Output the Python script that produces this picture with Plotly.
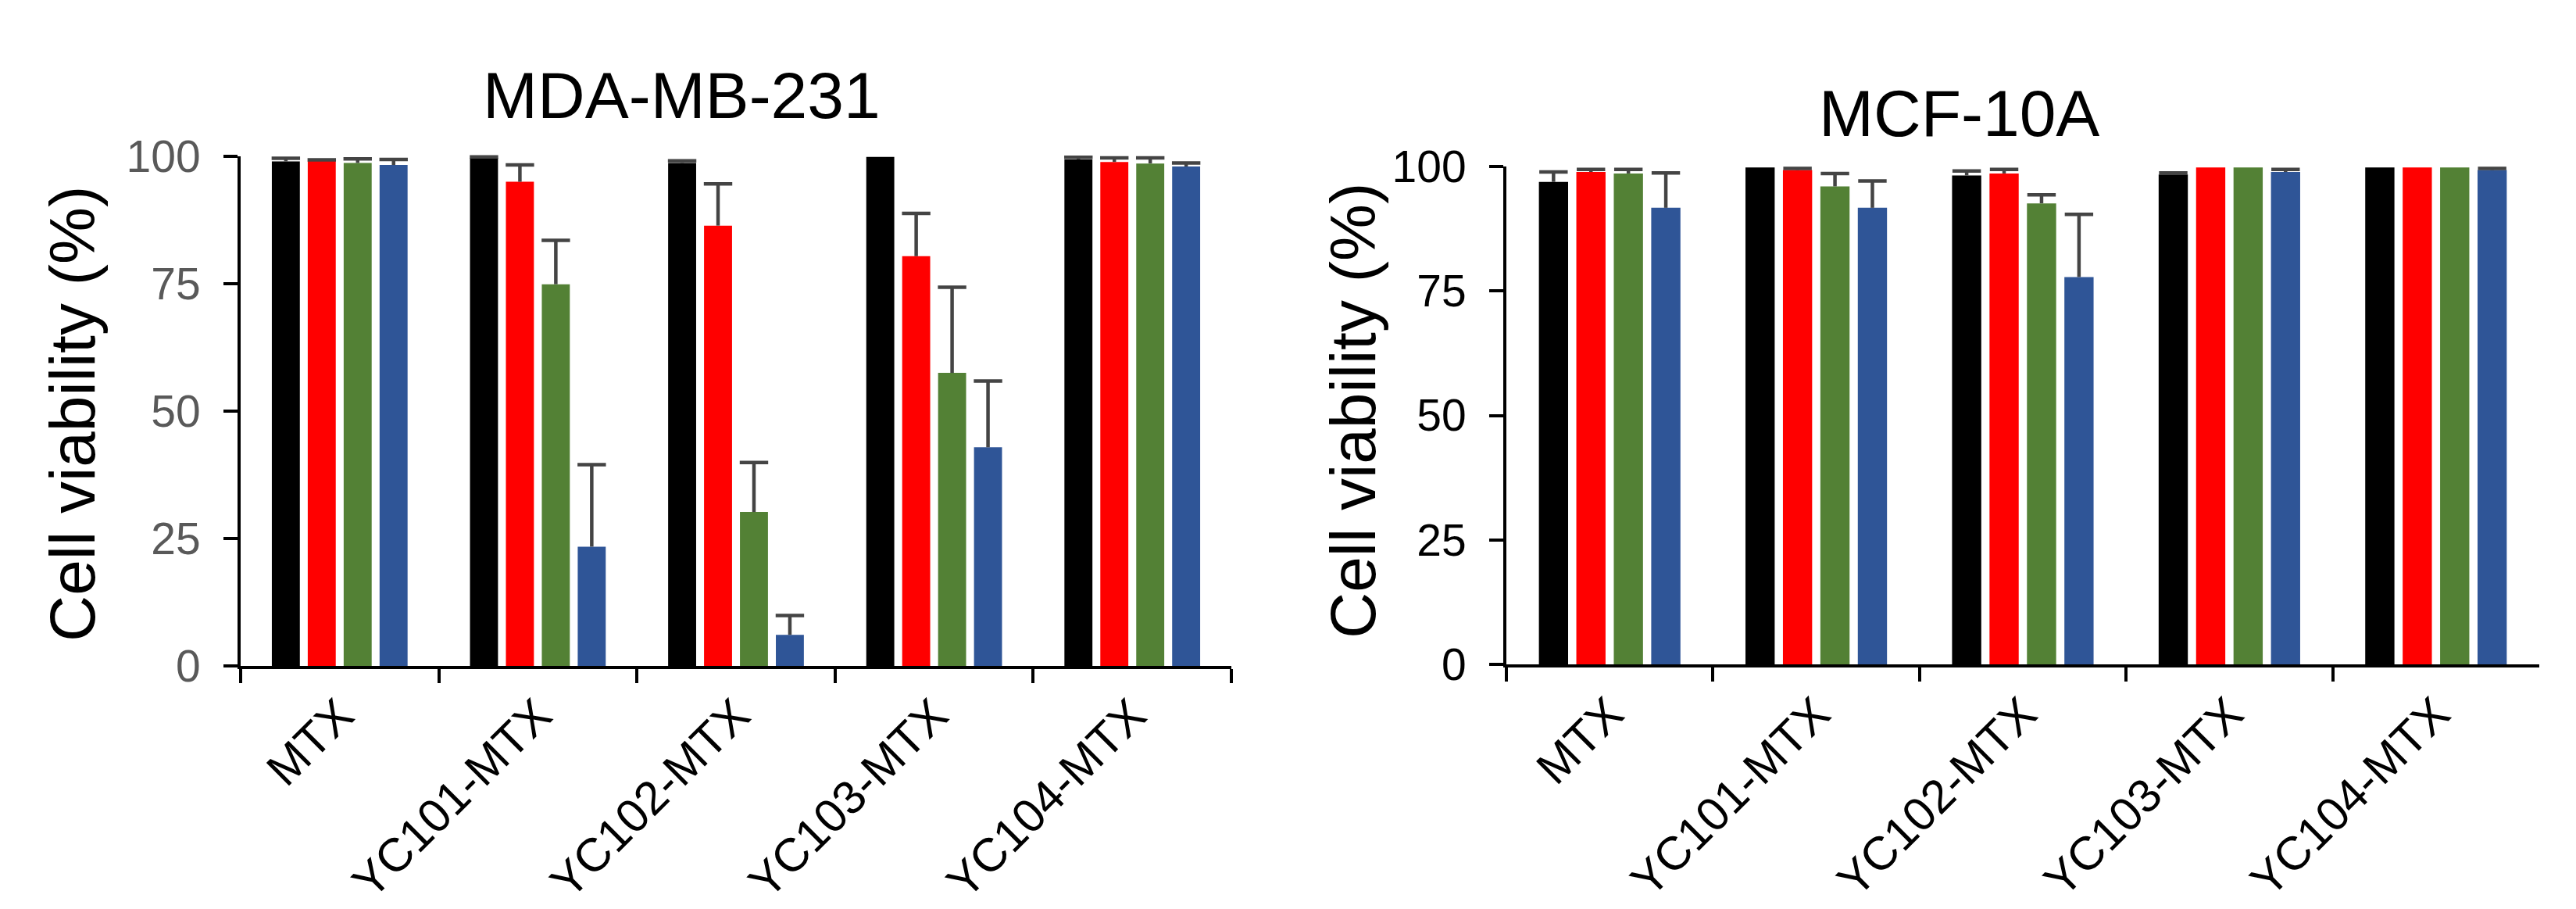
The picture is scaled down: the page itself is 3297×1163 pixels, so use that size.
import plotly.graph_objects as go

# ---------------- data ----------------
categories = ["MTX", "YC101-MTX", "YC102-MTX", "YC103-MTX", "YC104-MTX"]
series_names = ["Dose 1", "Dose 2", "Dose 3", "Dose 4"]
series_colors = ["#000000", "#FF0000", "#538135", "#2F5597"]

# MDA-MB-231 (left panel)
mda_black = [99.0, 99.7, 98.7, 99.9, 99.4]
mda_red = [99.1, 95.0, 86.4, 80.4, 98.9]
mda_green = [98.7, 74.9, 30.2, 57.5, 98.6]
mda_blue = [98.3, 23.4, 6.1, 42.9, 98.0]
mda_black_err = [0.6, 0.2, 0.4, 0.0, 0.4]
mda_red_err = [0.2, 3.3, 8.2, 8.4, 0.8]
mda_green_err = [0.8, 8.6, 9.7, 16.8, 1.1]
mda_blue_err = [1.1, 16.1, 3.8, 13.0, 0.7]

# MCF-10A (right panel)
mcf_black = [96.9, 99.8, 98.2, 98.4, 99.8]
mcf_red = [98.9, 99.3, 98.6, 99.8, 99.8]
mcf_green = [98.6, 96.0, 92.6, 99.8, 99.8]
mcf_blue = [91.7, 91.7, 77.8, 98.9, 99.3]
mcf_black_err = [2.0, 0.0, 0.9, 0.3, 0.0]
mcf_red_err = [0.5, 0.3, 0.8, 0.0, 0.0]
mcf_green_err = [0.8, 2.6, 1.7, 0.0, 0.0]
mcf_blue_err = [7.0, 5.4, 12.6, 0.5, 0.3]

y_ticks = [0, 25, 50, 75, 100]
panel_titles = ["MDA-MB-231", "MCF-10A"]
y_title = "Cell viability (%)"

# ---------------- figure ----------------
W, H = 3297, 1163
FONT = "Liberation Sans, Arial, Helvetica, sans-serif"
ERR_COLOR = "#444444"

fig = go.Figure()

panels = [
    ("x", "y", [mda_black, mda_red, mda_green, mda_blue],
     [mda_black_err, mda_red_err, mda_green_err, mda_blue_err]),
    ("x2", "y2", [mcf_black, mcf_red, mcf_green, mcf_blue],
     [mcf_black_err, mcf_red_err, mcf_green_err, mcf_blue_err]),
]

for xa, ya, vals, errs in panels:
    for i, (name, col) in enumerate(zip(series_names, series_colors)):
        fig.add_trace(go.Bar(
            x=categories, y=vals[i], name=name, marker_color=col,
            marker_line_width=0, xaxis=xa, yaxis=ya, showlegend=False,
            offsetgroup=str(i),
            error_y=dict(type="data", symmetric=False, array=errs[i],
                         arrayminus=[0] * len(errs[i]), width=0,
                         thickness=4.5, color=ERR_COLOR),
        ))
    for i, name in enumerate(series_names):
        caps = [v + e if e > 0 else None for v, e in zip(vals[i], errs[i])]
        fig.add_trace(go.Scatter(
            x=categories, y=caps, mode="markers", name=name + " cap",
            xaxis=xa, yaxis=ya, showlegend=False, cliponaxis=False,
            offsetgroup=str(i),
            marker=dict(symbol="line-ew", size=26, color=ERR_COLOR,
                        line=dict(width=4.5, color=ERR_COLOR)),
        ))

def px_x(p):
    return p / W

def px_y(p):
    return 1 - p / H

common_x = dict(
    type="category", showline=True, linecolor="black", linewidth=4,
    ticks="outside", ticklen=18, tickwidth=4, tickcolor="black",
    tickson="boundaries", tickangle=-45, showgrid=False, zeroline=False,
    automargin=False,
    tickfont=dict(family=FONT, size=60, color="black"),
)
common_y = dict(
    range=[0, 100], showline=True, linecolor="black", linewidth=4,
    ticks="outside", ticklen=18, tickwidth=4, tickcolor="black",
    tickvals=y_ticks, showgrid=False, zeroline=False, ticklabelstandoff=18,
    automargin=False,
)

fig.update_layout(
    template="none",
    width=W, height=H, margin=dict(l=0, r=0, t=0, b=0, pad=0, autoexpand=False),
    paper_bgcolor="white", plot_bgcolor="white",
    barmode="group", bargap=0.275, bargroupgap=0.22,
    scattermode="group", scattergap=0.275,
    showlegend=False,
    font=dict(family=FONT, color="black"),
    xaxis=dict(domain=[px_x(308), px_x(1576)], anchor="y", **common_x),
    yaxis=dict(domain=[px_y(852), px_y(200)], anchor="x",
               tickfont=dict(family=FONT, size=57, color="#595959"), **common_y),
    xaxis2=dict(domain=[px_x(1928), px_x(3250)], anchor="y2", **common_x),
    yaxis2=dict(domain=[px_y(850), px_y(213)], anchor="x2",
                tickfont=dict(family=FONT, size=57, color="black"), **common_y),
    annotations=[
        dict(text=panel_titles[0], x=px_x(872), y=px_y(122), xref="paper", yref="paper",
             xanchor="center", yanchor="middle", showarrow=False,
             font=dict(family=FONT, size=84, color="black")),
        dict(text=panel_titles[1], x=px_x(2507), y=px_y(145), xref="paper", yref="paper",
             xanchor="center", yanchor="middle", showarrow=False,
             font=dict(family=FONT, size=84, color="black")),
        dict(text=y_title, x=px_x(92), y=px_y(530), xref="paper", yref="paper",
             xanchor="center", yanchor="middle", textangle=-90, showarrow=False,
             font=dict(family=FONT, size=82, color="black")),
        dict(text=y_title, x=px_x(1731), y=px_y(525), xref="paper", yref="paper",
             xanchor="center", yanchor="middle", textangle=-90, showarrow=False,
             font=dict(family=FONT, size=82, color="black")),
    ],
)

fig.write_html("out.html", config={"displayModeBar": False},
               post_script="document.body.style.margin='0px';")
